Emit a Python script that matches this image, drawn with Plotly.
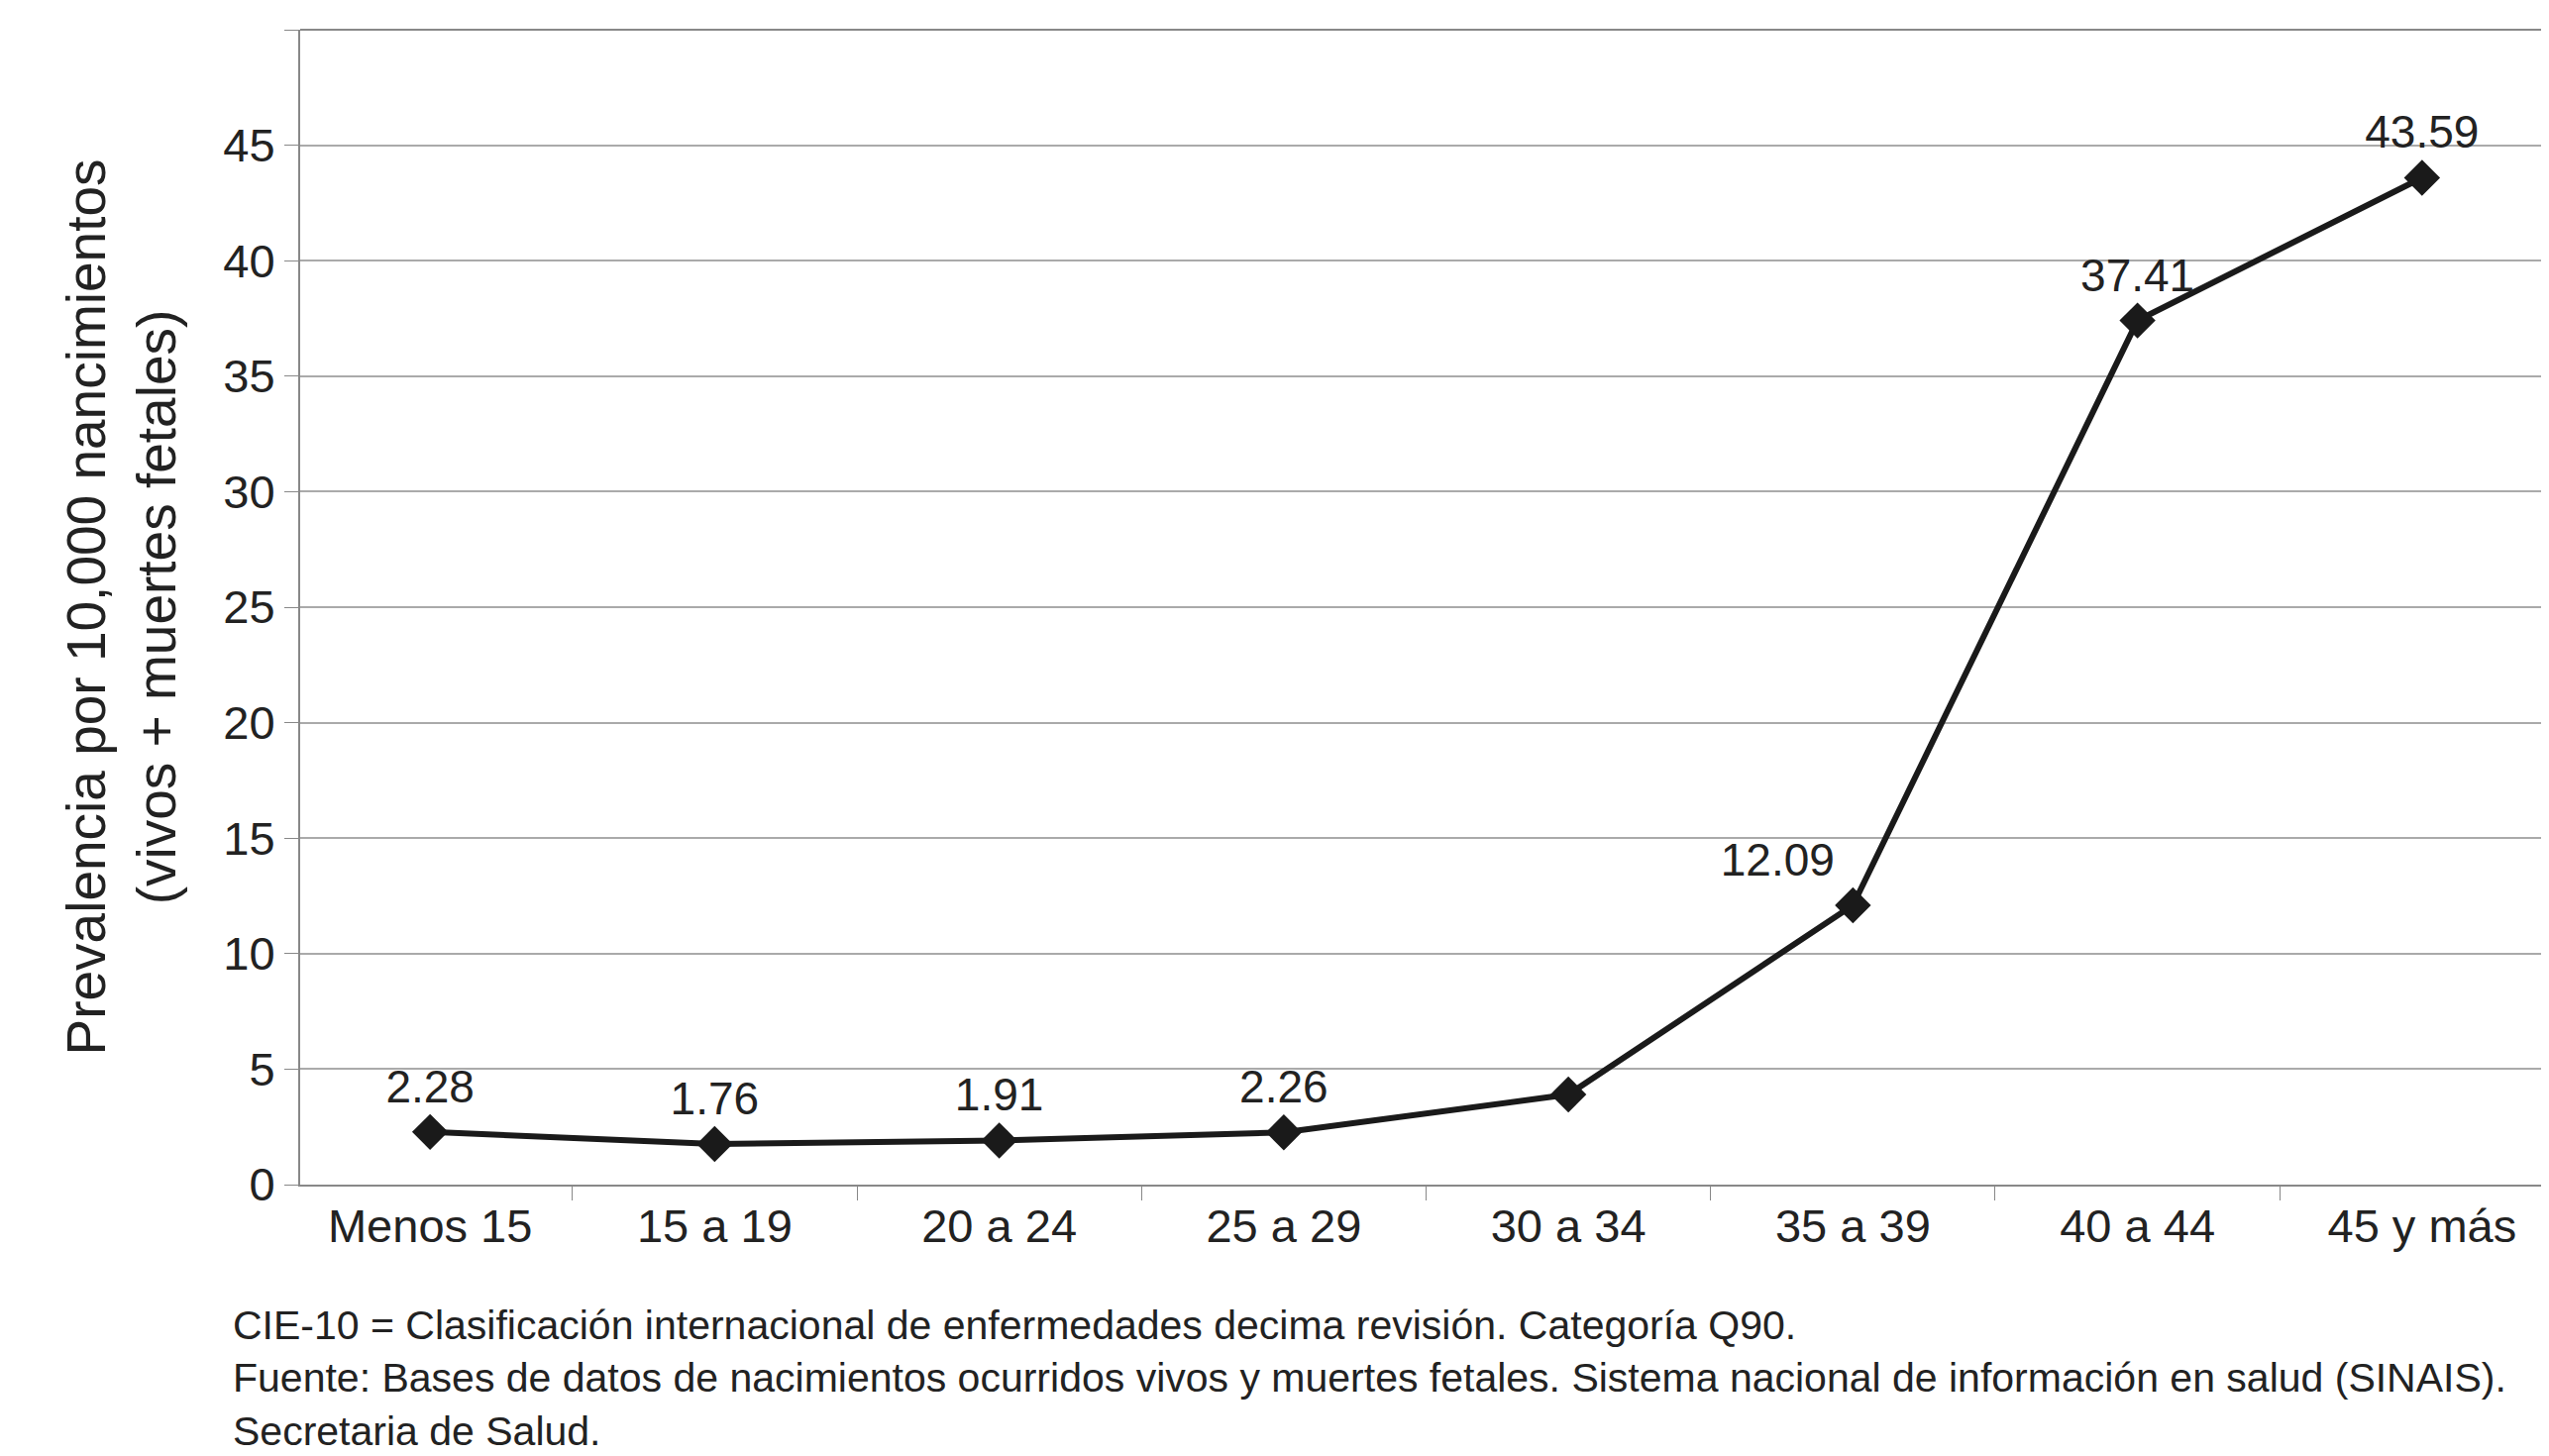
import plotly.graph_objects as go

age_groups = ['Menos 15', '15 a 19', '20 a 24', '25 a 29', '30 a 34', '35 a 39', '40 a 44', '45 y más']
prevalence = [2.28, 1.76, 1.91, 2.26, 3.9, 12.09, 37.41, 43.59]
labels = ['2.28', '1.76', '1.91', '2.26', '', '12.09', '37.41', '43.59']
label_pos = ['top center'] * 5 + ['top left', 'top center', 'top center']

fig = go.Figure()
fig.add_trace(go.Scatter(
    x=age_groups, y=prevalence, mode='lines+markers+text',
    text=labels, textposition=label_pos,
    textfont=dict(size=46, color='#222'),
    line=dict(color='#1a1a1a', width=6),
    marker=dict(symbol='diamond', size=28, color='#1a1a1a'),
    cliponaxis=False,
))

plot_l, plot_r, plot_t, plot_b = 295, 5, 22, 282
plot_w = 2573 - plot_l - plot_r
plot_h = 1470 - plot_t - plot_b

fig.update_layout(
    width=2573, height=1470, showlegend=False,
    plot_bgcolor='white', paper_bgcolor='white',
    font=dict(family='Liberation Sans, Arial', size=46, color='#222'),
    margin=dict(l=plot_l, r=plot_r, t=plot_t, b=plot_b),
    annotations=[dict(
        x=(225 - plot_l) / plot_w, y=-(1305 - (1470 - plot_b)) / plot_h,
        xref='paper', yref='paper', showarrow=False,
        xanchor='left', yanchor='top', align='left',
        font=dict(size=41, color='#222'),
        text='CIE-10 = Clasificación internacional de enfermedades decima revisión. Categoría Q90.<br>'
             'Fuente: Bases de datos de nacimientos ocurridos vivos y muertes fetales. Sistema nacional de información en salud (SINAIS).<br>'
             'Secretaria de Salud.',
    )],
)

fig.update_xaxes(
    showline=True, linecolor='#888', linewidth=2,
    ticks='outside', tickson='boundaries', ticklen=14, tickcolor='#888',
    tickfont=dict(size=47), showgrid=False,
)
fig.update_yaxes(
    range=[0, 50], dtick=5, showgrid=True, gridcolor='#aaa', gridwidth=2,
    showline=True, linecolor='#888', linewidth=2,
    ticks='outside', ticklen=14, tickcolor='#888', tickfont=dict(size=47),
    zeroline=False,
    title=dict(text='Prevalencia por 10,000 nancimientos<br>(vivos + muertes fetales)',
               font=dict(size=55), standoff=30),
)
fig.add_shape(type='line', xref='paper', yref='paper', x0=1, x1=1, y0=0, y1=1,
              line=dict(color='#888', width=2))
fig.add_shape(type='line', xref='paper', yref='paper', x0=0, x1=1, y0=1, y1=1,
              line=dict(color='#888', width=2))

fig.write_html('out.html')
